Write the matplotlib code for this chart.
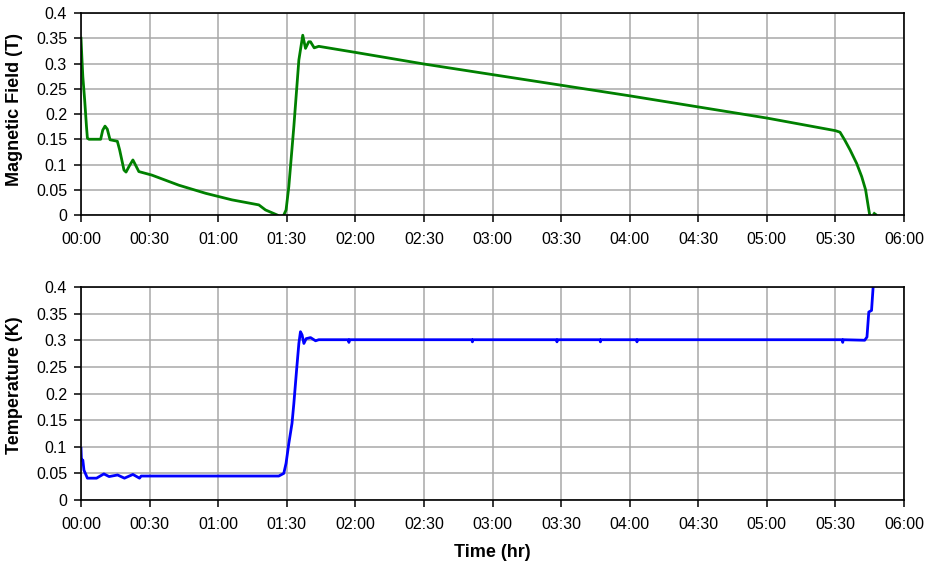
import numpy as np
import matplotlib
matplotlib.use("Agg")
import matplotlib.pyplot as plt

plt.rcParams['font.family'] = ['Liberation Sans', 'DejaVu Sans']

# time in minutes from start
field_t = [0, 0.4, 0.8, 1.6, 2.4, 2.8, 3.5, 8.6, 9.5, 10.5, 11.5, 12.7, 15.9, 16.9,
           18.8, 19.7, 21.0, 22.7, 23.5, 25.3, 31, 42.8, 54.5, 66, 77.8, 80.7, 84.3,
           85.8, 87.0, 88.7, 89.7, 90.9, 93.1, 95.3, 97.0, 98.2, 99.6, 100.4, 102.0,
           104, 120, 150, 180, 210, 240, 270, 300, 330, 332, 334, 336.4, 339.3,
           341.5, 343.2, 344.4, 345, 346.0, 347.0, 347.6]
field_B = [0.35, 0.31, 0.274, 0.228, 0.175, 0.152, 0.15, 0.15, 0.168, 0.176, 0.170,
           0.149, 0.146, 0.129, 0.089, 0.085, 0.096, 0.109, 0.102, 0.086, 0.079,
           0.059, 0.043, 0.030, 0.020, 0.010, 0.003, 0.0, np.nan, 0.0, 0.01, 0.056,
           0.175, 0.307, 0.356, 0.330, 0.343, 0.343, 0.331, 0.334, 0.322, 0.299,
           0.278, 0.257, 0.236, 0.214, 0.192, 0.167, 0.164, 0.149, 0.129, 0.102,
           0.076, 0.05, 0.016, 0.0, np.nan, 0.003, 0.001]

temp_t = [0, 0.2, 0.8, 1.3, 2.8, 6.8, 10, 12.3, 16, 19, 22.7, 25.6, 26.3, 86.5,
          88.7, 89.7, 90.9, 92.3, 93.1, 94.3, 95.3, 96.0, 96.7, 97.5, 98.5, 100.4,
          102.6, 104, 117, 117.2, 117.4, 171, 171.2, 171.4, 208, 208.2, 208.4,
          227, 227.2, 227.4, 243, 243.2, 243.4, 333, 333.2, 333.4, 342.8, 343.8,
          344.6, 345.8, 346.5, 347.0]
temp_K = [0.097, 0.075, 0.075, 0.056, 0.041, 0.041, 0.049, 0.044, 0.047, 0.041,
          0.048, 0.041, 0.045, 0.045, 0.05, 0.069, 0.106, 0.144, 0.181, 0.244,
          0.294, 0.316, 0.31, 0.294, 0.303, 0.305, 0.299, 0.301, 0.301, 0.296,
          0.301, 0.301, 0.297, 0.301, 0.301, 0.297, 0.301, 0.301, 0.297, 0.301,
          0.301, 0.297, 0.301, 0.301, 0.296, 0.301, 0.300, 0.306, 0.353, 0.356,
          0.40, 0.42]

x_ticks = [0, 30, 60, 90, 120, 150, 180, 210, 240, 270, 300, 330, 360]
x_labels = ["00:00", "00:30", "01:00", "01:30", "02:00", "02:30", "03:00",
            "03:30", "04:00", "04:30", "05:00", "05:30", "06:00"]
y_ticks = [0, 0.05, 0.1, 0.15, 0.2, 0.25, 0.3, 0.35, 0.4]
y_labels = ["0", "0.05", "0.1", "0.15", "0.2", "0.25", "0.3", "0.35", "0.4"]

W, H = 930, 561
fig = plt.figure(figsize=(W / 100, H / 100), dpi=100)
left = 81 / W
width = (904 - 81) / W
ax1 = fig.add_axes([left, 1 - 215 / H, width, (215 - 13) / H])
ax2 = fig.add_axes([left, 1 - 500 / H, width, (500 - 287) / H])

def style(ax):
    ax.set_xlim(0, 360)
    ax.set_ylim(0, 0.4)
    ax.set_xticks(x_ticks)
    ax.set_xticklabels(x_labels)
    ax.set_yticks(y_ticks)
    ax.set_yticklabels(y_labels)
    ax.grid(True, color='#a8a8a8', linewidth=1.1)
    ax.set_axisbelow(True)
    for s in ax.spines.values():
        s.set_color('black')
        s.set_linewidth(1.2)
    ax.tick_params(axis='x', direction='out', length=5, width=1.1, pad=7,
                   labelsize=11.5, color='black')
    ax.tick_params(axis='y', direction='out', length=5, width=1.1, pad=5,
                   labelsize=11.5, color='black')

style(ax1)
style(ax2)

ax1.plot(field_t, field_B, color='#008000', linewidth=2.0, clip_on=True)
ax2.plot(temp_t, temp_K, color='#0000ff', linewidth=2.0, clip_on=True)

ax1.set_ylabel("Magnetic Field (T)", fontsize=13, fontweight='bold')
ax1.yaxis.set_label_coords(-0.0705, 0.52)
ax2.set_ylabel("Temperature (K)", fontsize=13, fontweight='bold')
ax2.yaxis.set_label_coords(-0.0705, 0.54)
ax2.set_xlabel("Time (hr)", fontsize=13, fontweight='bold')
ax2.xaxis.set_label_coords(0.5, -0.245)
ax2.xaxis.label.set_verticalalignment('center')

fig.savefig("out.png", dpi=100)
